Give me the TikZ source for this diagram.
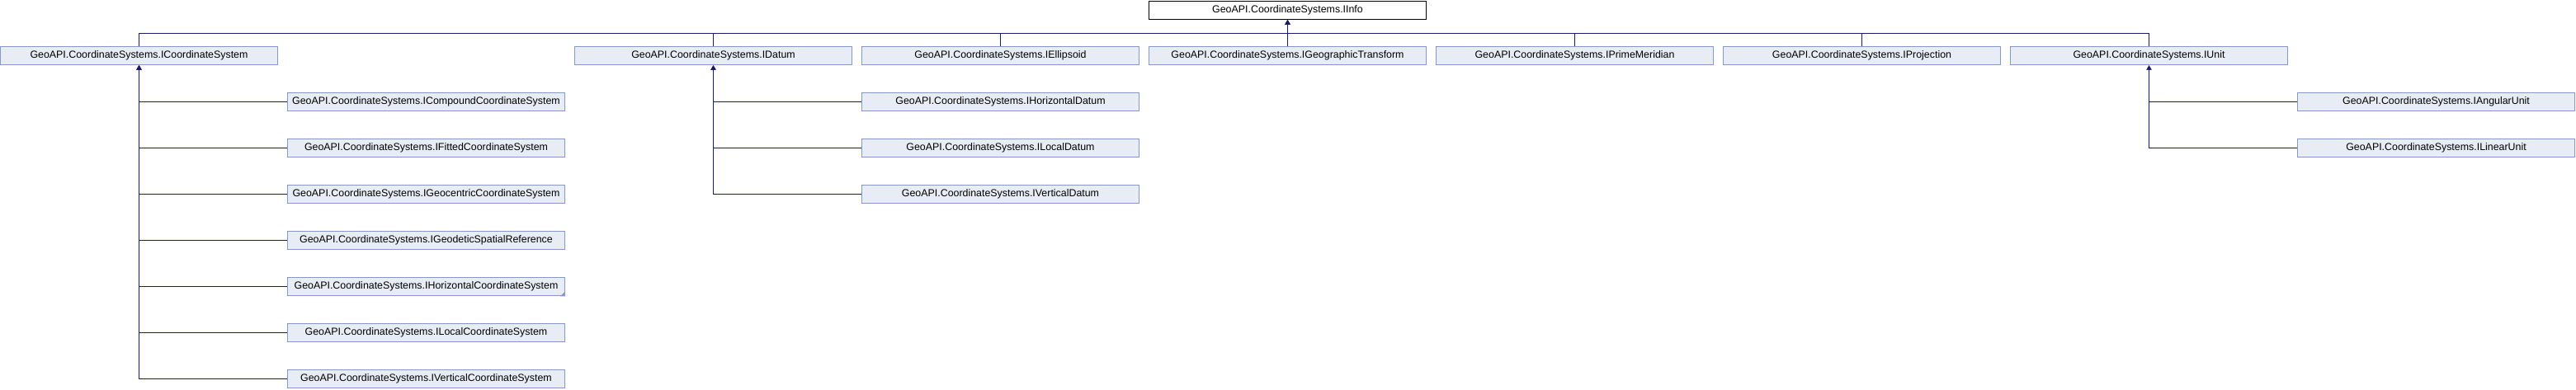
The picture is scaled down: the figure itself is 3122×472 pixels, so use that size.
\documentclass[tikz,border=0pt]{standalone}
\usepackage{fontspec}
\setmainfont{Liberation Sans}
\usetikzlibrary{arrows.meta}
\definecolor{boxfill}{HTML}{E8ECF5}
\definecolor{boxline}{HTML}{8499CA}
\definecolor{edgecol}{HTML}{191970}
\begin{document}
\begin{tikzpicture}[x=0.75pt,y=-0.75pt,
  cls/.style={draw=boxline,fill=boxfill,line width=0.75pt,rectangle,inner sep=0pt,
    minimum width=252pt,minimum height=17pt,font=\fontsize{9.3}{11}\selectfont,text=black},
  rootcls/.style={cls,draw=black,fill=white},
  edge/.style={draw=edgecol,line width=0.75pt,-{Triangle[width=4.5pt,length=4pt]}}]
\useasboundingbox (0,0) rectangle (3122,472);
% root
\node[rootcls] (info) at (1560.5,12.5) {GeoAPI.CoordinateSystems.IInfo};
% row 1
\node[cls] (ics)  at (168.5,67.5)  {GeoAPI.CoordinateSystems.ICoordinateSystem};
\node[cls] (dat)  at (864.5,67.5)  {GeoAPI.CoordinateSystems.IDatum};
\node[cls] (ell)  at (1212.5,67.5) {GeoAPI.CoordinateSystems.IEllipsoid};
\node[cls] (geo)  at (1560.5,67.5) {GeoAPI.CoordinateSystems.IGeographicTransform};
\node[cls] (pm)   at (1908.5,67.5) {GeoAPI.CoordinateSystems.IPrimeMeridian};
\node[cls] (proj) at (2256.5,67.5) {GeoAPI.CoordinateSystems.IProjection};
\node[cls] (unit) at (2604.5,67.5) {GeoAPI.CoordinateSystems.IUnit};
% children of ICoordinateSystem
\node[cls] (cs1) at (516.5,123.5) {GeoAPI.CoordinateSystems.ICompoundCoordinateSystem};
\node[cls] (cs2) at (516.5,179.5) {GeoAPI.CoordinateSystems.IFittedCoordinateSystem};
\node[cls] (cs3) at (516.5,235.5) {GeoAPI.CoordinateSystems.IGeocentricCoordinateSystem};
\node[cls] (cs4) at (516.5,291.5) {GeoAPI.CoordinateSystems.IGeodeticSpatialReference};
\node[cls] (cs5) at (516.5,347.5) {GeoAPI.CoordinateSystems.IHorizontalCoordinateSystem};
\node[cls] (cs6) at (516.5,403.5) {GeoAPI.CoordinateSystems.ILocalCoordinateSystem};
\node[cls] (cs7) at (516.5,459.5) {GeoAPI.CoordinateSystems.IVerticalCoordinateSystem};
% truncation marker
\fill[boxline] (cs5.south east) -- ++(-6,0) -- ++(6,-6) -- cycle;
% children of IDatum
\node[cls] (d1) at (1212.5,123.5) {GeoAPI.CoordinateSystems.IHorizontalDatum};
\node[cls] (d2) at (1212.5,179.5) {GeoAPI.CoordinateSystems.ILocalDatum};
\node[cls] (d3) at (1212.5,235.5) {GeoAPI.CoordinateSystems.IVerticalDatum};
% children of IUnit
\node[cls] (u1) at (2952.5,123.5) {GeoAPI.CoordinateSystems.IAngularUnit};
\node[cls] (u2) at (2952.5,179.5) {GeoAPI.CoordinateSystems.ILinearUnit};
% bus
\coordinate (bus) at (1560.5,40);
\foreach \n in {ics,dat,ell,geo,pm,proj,unit}
  \draw[edge] (\n.north) |- (bus) -- (info.south);
\foreach \n in {cs1,cs2,cs3,cs4,cs5,cs6,cs7}
  \draw[edge] (\n.west) -| (ics.south);
\foreach \n in {d1,d2,d3}
  \draw[edge] (\n.west) -| (dat.south);
\foreach \n in {u1,u2}
  \draw[edge] (\n.west) -| (unit.south);
\end{tikzpicture}
\end{document}
